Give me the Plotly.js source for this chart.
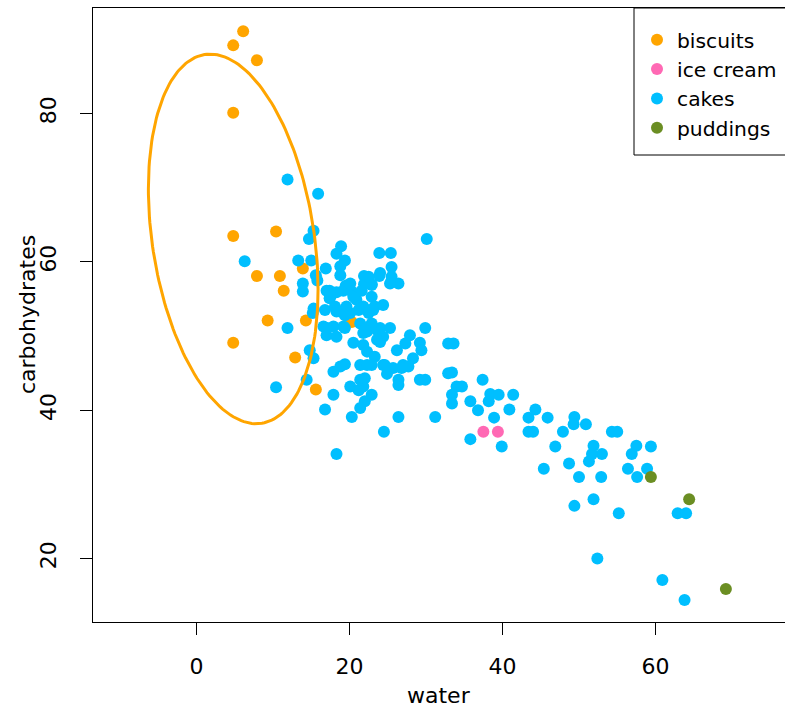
<!DOCTYPE html>
<html>
<head>
<meta charset="utf-8">
<script src="https://cdn.plot.ly/plotly-3.0.1.min.js"></script>
<style>
  html, body { margin: 0; padding: 0; background: #ffffff; }
  #chart { width: 785px; height: 709px; }
</style>
</head>
<body>
<div id="chart"></div>
<script>
// Food groups: water content vs carbohydrates
const groups = ["biscuits", "ice cream", "cakes", "puddings"];
const groupColours = ["#FFA500", "#FF69B4", "#00BFFF", "#6B8E23"];

const biscuitsWater = [6.1, 4.8, 7.9, 4.8, 4.8, 10.4, 7.9, 10.9, 11.4, 13.9, 9.3, 14.3, 4.8, 12.9, 15.6, 20.3];
const biscuitsCarbs = [91.1, 89.2, 87.2, 80.1, 63.5, 64.1, 58.1, 58.1, 56.1, 59.1, 52.1, 52.1, 49.1, 47.1, 42.8, 51.9];

const iceCreamWater = [37.5, 39.4];
const iceCreamCarbs = [37.1, 37.1];

const cakesWater = [
  11.9, 15.9, 15.3, 14.7, 30.1, 6.3, 18.9, 18.3, 23.9, 25.4,
  19.4, 13.3, 15.0, 16.9, 15.6, 18.8, 18.8, 25.5, 25.5, 26.4,
  23.9, 21.9, 21.9, 22.9, 13.9, 13.9, 15.8, 17.4, 19.5, 20.3,
  18.3, 22.9, 24.4, 20.9, 17.4, 15.3, 16.8, 18.1, 19.6, 21.8,
  23.3, 11.9, 15.2, 18.8, 20.1, 22.7, 16.6, 17.9, 19.4, 17.0,
  21.4, 21.8, 24.0, 25.3, 24.4, 24.0, 20.5, 21.8, 22.3, 23.3,
  22.9, 21.4, 24.4, 26.2, 27.9, 27.3, 29.9, 29.2, 29.4, 28.3,
  27.0, 25.7, 24.9, 26.4, 26.4, 29.2, 29.9, 14.8, 15.3, 14.4,
  17.9, 19.4, 18.8, 21.4, 21.8, 20.1, 22.9, 22.0, 21.4, 20.3,
  17.9, 16.8, 26.4, 31.2, 24.5, 18.3, 10.4, 17.0, 17.5, 19.2,
  20.1, 20.5, 21.6, 22.9, 24.0, 18.3, 21.2, 23.1, 17.0, 19.2,
  22.3, 23.6, 18.3, 23.6, 22.5, 22.9, 22.0, 27.7, 26.8, 24.6,
  32.9, 32.9, 22.0, 22.5, 25.3, 19.4, 22.3, 21.2, 33.6, 33.4,
  34.0, 34.7, 33.4, 33.4, 35.8, 36.8, 37.4, 38.4, 38.2, 39.5,
  41.4, 40.9, 38.9, 35.8, 39.9, 43.4, 44.3, 45.9, 43.4, 44.0,
  47.9, 49.4, 49.3, 50.9, 46.9, 45.4, 48.7, 51.9, 53.0, 51.7,
  51.3, 50.0, 52.9, 54.3, 55.0, 57.5, 56.9, 59.4, 56.4, 58.9,
  57.6, 51.9, 49.4, 55.2, 62.9, 64.0, 52.4, 60.9, 63.8
];
const cakesCarbs = [
  71.1, 69.2, 64.2, 63.1, 63.1, 60.1, 62.1, 61.1, 61.2, 61.2,
  60.2, 60.2, 60.2, 59.1, 58.2, 59.4, 58.2, 59.3, 58.0, 57.1,
  58.1, 58.1, 57.0, 57.0, 57.1, 56.0, 57.5, 56.1, 56.8, 56.0,
  55.9, 55.3, 54.2, 54.9, 55.1, 53.7, 53.5, 54.0, 54.0, 54.0,
  54.0, 51.1, 53.1, 53.3, 53.1, 53.5, 51.3, 51.3, 51.1, 50.1,
  51.7, 50.4, 51.1, 51.1, 49.9, 49.2, 49.1, 48.8, 47.9, 47.2,
  46.1, 46.1, 46.1, 48.1, 50.1, 49.0, 51.1, 49.1, 48.1, 47.0,
  46.1, 45.7, 44.9, 44.1, 43.4, 44.1, 44.1, 48.1, 47.0, 44.1,
  45.2, 46.2, 45.9, 44.1, 43.2, 43.2, 42.1, 41.2, 40.3, 39.1,
  42.1, 40.1, 39.1, 39.1, 37.1, 34.1, 43.1, 56.1, 55.3, 56.1,
  57.1, 55.3, 56.1, 56.9, 58.5, 53.3, 53.5, 53.5, 51.1, 51.3,
  50.6, 50.8, 49.9, 49.5, 53.1, 51.7, 50.8, 45.9, 45.7, 46.1,
  49.0, 45.0, 44.3, 58.0, 57.1, 52.8, 46.1, 42.7, 49.0, 45.1,
  43.2, 43.2, 42.1, 40.9, 41.2, 40.0, 44.1, 42.2, 41.2, 42.1,
  42.1, 40.1, 39.0, 36.1, 35.1, 39.0, 40.1, 39.0, 37.1, 37.1,
  37.1, 39.1, 38.1, 38.1, 35.1, 32.1, 32.8, 35.2, 34.1, 34.1,
  33.1, 31.0, 31.0, 37.1, 37.1, 35.2, 34.1, 35.1, 32.1, 32.1,
  31.0, 28.0, 27.1, 26.1, 26.1, 26.1, 20.0, 17.1, 14.4
];

const puddingsWater = [59.4, 64.4, 69.2];
const puddingsCarbs = [31.0, 28.0, 15.9];

// Ellipse around the biscuit group: centre and covariance-style shape matrix
const ellipseCentre = [4.8, 63.1];
const ellipseShape = [[123, -75], [-75, 621]];

const tickValues = [0, 20, 40, 60];
const yTickValues = [20, 40, 60, 80];

// Trace the ellipse outline via the Cholesky factor of the shape matrix
function ellipseOutline(centre, S, steps) {
  const a = Math.sqrt(S[0][0]);
  const b = S[0][1] / a;
  const c = Math.sqrt(S[1][1] - b * b);
  const xs = [], ys = [];
  for (let i = 0; i <= steps; i++) {
    const t = 2 * Math.PI * i / steps;
    xs.push(centre[0] + a * Math.cos(t));
    ys.push(centre[1] + b * Math.cos(t) + c * Math.sin(t));
  }
  return { xs, ys };
}

const seriesX = [biscuitsWater, iceCreamWater, cakesWater, puddingsWater];
const seriesY = [biscuitsCarbs, iceCreamCarbs, cakesCarbs, puddingsCarbs];

const FONT = "DejaVu Sans, Liberation Sans, Arial, sans-serif";
const FS = 22;
const LEGEND_FS = 20.3;

const traces = groups.map((name, i) => ({
  type: "scatter",
  mode: "markers",
  name: name,
  x: seriesX[i],
  y: seriesY[i],
  marker: { color: groupColours[i], size: 12, line: { width: 0 } },
  hoverinfo: "x+y+name"
}));

const outline = ellipseOutline(ellipseCentre, ellipseShape, 200);
traces.push({
  type: "scatter",
  mode: "lines",
  x: outline.xs,
  y: outline.ys,
  line: { color: "#FFA500", width: 3 },
  showlegend: false,
  hoverinfo: "skip"
});

const W = 785, H = 709;
const M = { l: 93, r: 0, t: 8, b: 87 };
const plotW = W - M.l - M.r, plotH = H - M.t - M.b;
const px2x = p => (p - M.l) / plotW;
const py2y = p => (H - M.b - p) / plotH;

const layout = {
  width: W,
  height: H,
  margin: { l: M.l, r: M.r, t: M.t, b: M.b, pad: 0, autoexpand: false },
  paper_bgcolor: "#ffffff",
  plot_bgcolor: "#ffffff",
  showlegend: true,
  font: { family: FONT, size: FS, color: "#000000" },
  xaxis: {
    range: [-13.53, 76.93],
    tickvals: tickValues,
    ticks: "outside",
    ticklen: 12,
    tickwidth: 1,
    tickcolor: "#000000",
    ticklabelstandoff: 13,
    showline: true,
    mirror: true,
    linecolor: "#000000",
    linewidth: 1,
    showgrid: false,
    zeroline: false,
    automargin: false,
    tickfont: { family: FONT, size: FS, color: "#000000" }
  },
  yaxis: {
    range: [11.44, 94.24],
    tickvals: yTickValues,
    ticks: "outside",
    ticklen: 12,
    tickwidth: 1,
    tickcolor: "#000000",
    tickangle: -90,
    ticklabelstandoff: 15,
    showline: true,
    mirror: false,
    linecolor: "#000000",
    linewidth: 1,
    showgrid: false,
    zeroline: false,
    automargin: false,
    tickfont: { family: FONT, size: FS, color: "#000000" }
  },
  legend: {
    x: px2x(637),
    xanchor: "left",
    y: 1 - 12 / plotH,
    yanchor: "top",
    bgcolor: "rgba(0,0,0,0)",
    borderwidth: 0,
    font: { family: FONT, size: LEGEND_FS, color: "#000000" },
    traceorder: "normal",
    itemclick: false
  },
  shapes: [{
    type: "rect",
    xref: "paper",
    yref: "paper",
    x0: px2x(634),
    x1: px2x(800),
    y0: py2y(155),
    y1: 1,
    line: { color: "#000000", width: 1 },
    fillcolor: "rgba(0,0,0,0)",
    layer: "above"
  }],
  annotations: [
    {
      text: "water",
      xref: "paper", yref: "paper",
      x: 0.5, y: py2y(695),
      xanchor: "center", yanchor: "middle",
      showarrow: false,
      font: { family: FONT, size: FS, color: "#000000" }
    },
    {
      text: "carbohydrates",
      xref: "paper", yref: "paper",
      x: px2x(27), y: 0.5,
      xanchor: "center", yanchor: "middle",
      textangle: -90,
      showarrow: false,
      font: { family: FONT, size: FS, color: "#000000" }
    }
  ]
};

Plotly.newPlot("chart", traces, layout, { displayModeBar: false, staticPlot: true });
</script>
</body>
</html>
